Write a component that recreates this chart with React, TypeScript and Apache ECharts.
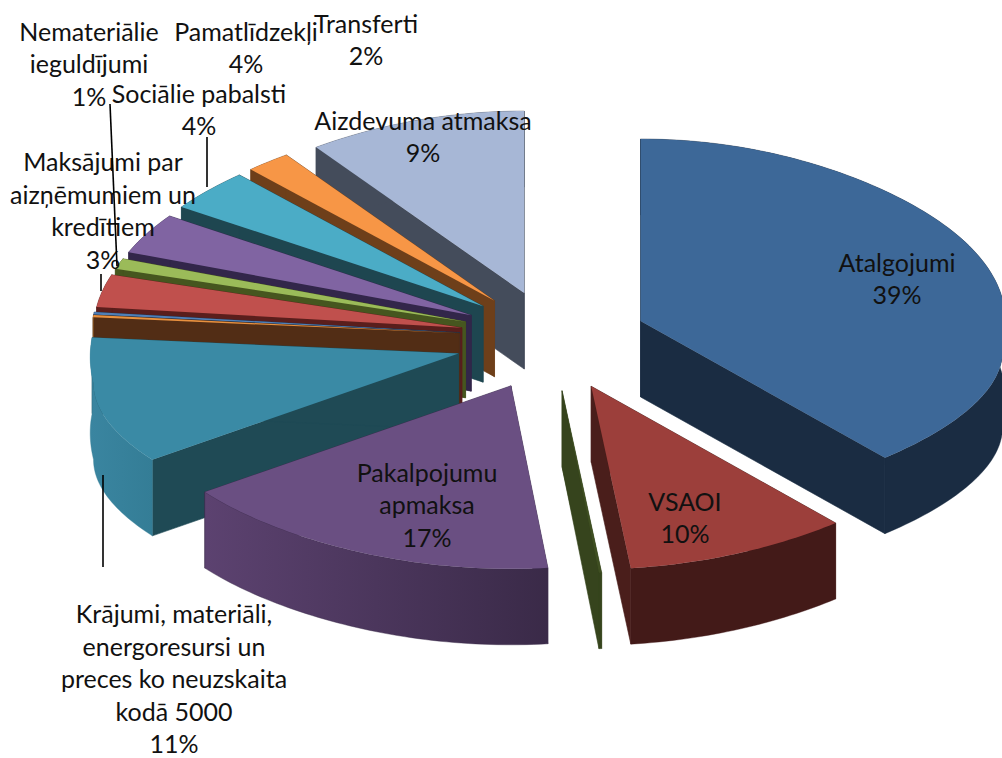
import React, { useEffect, useRef } from "react";
import * as echarts from "echarts";

// Slices, clockwise from twelve o'clock
const sliceNames = [
  "Atalgojumi", "VSAOI", "", "Pakalpojumu\napmaksa",
  "Krājumi, materiāli,\nenergoresursi un\npreces ko neuzskaita\nkodā 5000",
  "", "", "Maksājumi par\naizņēmumiem un\nkredītiem", "Nemateriālie\nieguldījumi",
  "Pamatlīdzekļi", "Sociālie pabalsti", "Transferti", "Aizdevuma atmaksa",
];
const sliceValues = [38.2, 10.05, 0.12, 17.46, 12.64, 0.17, 0.19, 2.56, 0.83, 3.2, 3.33, 1.8, 9.44];
const percentLabels = ["39%", "10%", "", "17%", "11%", "", "", "3%", "1%", "4%", "4%", "2%", "9%"];

// Colours: top face, cut face, outer wall (left, right)
const topColors = ["#3d6898", "#9c3f3b", "#3f4f22", "#6a4f82", "#3a8aa5", "#e8913f", "#4f7fb8", "#c0504d", "#9bbb59", "#8064a2", "#4bacc6", "#f79646", "#a7b7d6"];
const cutColors = ["#1a2c42", "#4a1e1b", "#36441d", "#3b2b4c", "#1f4a55", "#522d15", "#1f3550", "#5a1e1c", "#46561f", "#32264a", "#1e4650", "#6e3f1a", "#444c5b"];
const wallLeft = ["#1a2c42", "#431a18", "#36441d", "#5c4270", "#3a85a0", "#8a5520", "#1f3550", "#5a1e1c", "#46561f", "#32264a", "#1e4650", "#6e3f1a", "#444c5b"];
const wallRight = ["#1a2c42", "#431a18", "#36441d", "#3a2a48", "#347d96", "#8a5520", "#1f3550", "#5a1e1c", "#46561f", "#32264a", "#1e4650", "#6e3f1a", "#444c5b"];

// Projection of the tilted pie
const pie = { cx: 552, cy: 338, ex: 95, eyBack: 47, eyFront: 53, leftDrop: 7, rxLeft: 365, rxRight: 362, bulge: 0.14, ryBack: 212, ryFront: 153, flatten: 0.12, off: 30, depth: 76 };
const lineStep = 32.5;

// Label centres (x, y of text block centre) and leader lines
const labelCenters: ([number, number] | null)[] = [
  [897, 278], [685, 517], null, [427, 504], [174, 678], null, null,
  [103, 210], [89, 63], [246, 47], [199, 109], [366, 39], [423, 136],
];
const leaderLines = [
  [[110, 104], [117, 266]],
  [[207, 137], [207, 187]],
  [[101, 274], [101, 291]],
  [[103, 475], [103, 567]],
];

const total = sliceValues.reduce((a, b) => a + b, 0);
const starts: number[] = [];
sliceValues.reduce((acc, v, i) => {
  starts[i] = acc;
  return acc + v;
}, 0);

function rimPoint(t: number, ax: number, ay: number) {
  const u = Math.sin(t);
  const v = Math.cos(t);
  const rx = u < 0 ? pie.rxLeft : pie.rxRight;
  const widen = v > 0 ? 1 + pie.bulge * Math.abs(u * u * u) * v : 1;
  const ry = v > 0 ? pie.ryBack : pie.ryFront * (1 - pie.flatten * u * u);
  return [ax + rx * u * widen, ay + pie.off - ry * v];
}

function renderSlice(params: any, api: any) {
  const i = params.dataIndex;
  const value = api.value(1);
  const a0 = (starts[i] / total) * Math.PI * 2;
  const a1 = a0 + (value / total) * Math.PI * 2;
  const mid = (a0 + a1) / 2;
  const cm = Math.cos(mid);
  const sm = Math.sin(mid);
  const ax = pie.cx + pie.ex * sm;
  const ay = pie.cy - (cm > 0 ? pie.eyBack : pie.eyFront) * cm + (sm < 0 ? pie.leftDrop * Math.pow(sm, 8) : 0);
  const arc: number[][] = [];
  const steps = Math.max(2, Math.ceil((a1 - a0) / 0.02));
  for (let s = 0; s <= steps; s++) {
    arc.push(rimPoint(a0 + ((a1 - a0) * s) / steps, ax, ay));
  }
  const drop = (p: number[]) => [p[0], p[1] + pie.depth];
  const z = (sliceValues.length - i) * 10;
  const quad = (p: number[]) => [[ax, ay], p, drop(p), [ax, ay + pie.depth]];
  const children: any[] = [
    { type: "polygon", z2: z, shape: { points: quad(arc[0]) }, style: { fill: cutColors[i], stroke: cutColors[i], lineWidth: 0.6 } },
    { type: "polygon", z2: z + 1, shape: { points: quad(arc[arc.length - 1]) }, style: { fill: cutColors[i], stroke: cutColors[i], lineWidth: 0.6 } },
    {
      type: "polygon",
      z2: z + 2,
      shape: { points: [...arc, ...arc.slice().reverse().map(drop)] },
      style: {
        fill: new echarts.graphic.LinearGradient(0, 0, 1, 0, [
          { offset: 0, color: wallLeft[i] },
          { offset: 1, color: wallRight[i] },
        ]),
        stroke: wallRight[i],
        lineWidth: 0.4,
      },
    },
    { type: "polygon", z2: z + 3, shape: { points: [[ax, ay], ...arc] }, style: { fill: topColors[i] } },
  ];
  const c = labelCenters[i];
  if (c) {
    const lines = (sliceNames[i] + "\n" + percentLabels[i]).split("\n");
    lines.forEach((line, j) => {
      children.push({
        type: "text",
        z2: 1000,
        style: {
          text: line,
          x: c[0],
          y: c[1] + (j - (lines.length - 1) / 2) * lineStep,
          align: "center",
          verticalAlign: "middle",
          fontFamily: "Lato",
          fontSize: 25,
          fill: "#111",
        },
      });
    });
  }
  return { type: "group", children };
}

export default function App() {
  const ref = useRef<HTMLDivElement>(null);
  useEffect(() => {
    document.body.style.margin = "0";
    document.body.style.overflow = "hidden";
    const chart = echarts.init(ref.current!, undefined, { renderer: "svg" });
    chart.setOption({
      animation: false,
      backgroundColor: "#ffffff",
      graphic: leaderLines.map((l) => ({
        type: "line",
        z: 100,
        shape: { x1: l[0][0], y1: l[0][1], x2: l[1][0], y2: l[1][1] },
        style: { stroke: "#000", lineWidth: 1.6 },
      })),
      series: [
        {
          type: "custom",
          coordinateSystem: "none",
          silent: true,
          clip: false,
          renderItem: renderSlice,
          data: sliceValues.map((v, i) => [i, v]),
        },
      ],
    });
    return () => chart.dispose();
  }, []);
  return <div ref={ref} style={{ width: 1002, height: 758 }} />;
}
